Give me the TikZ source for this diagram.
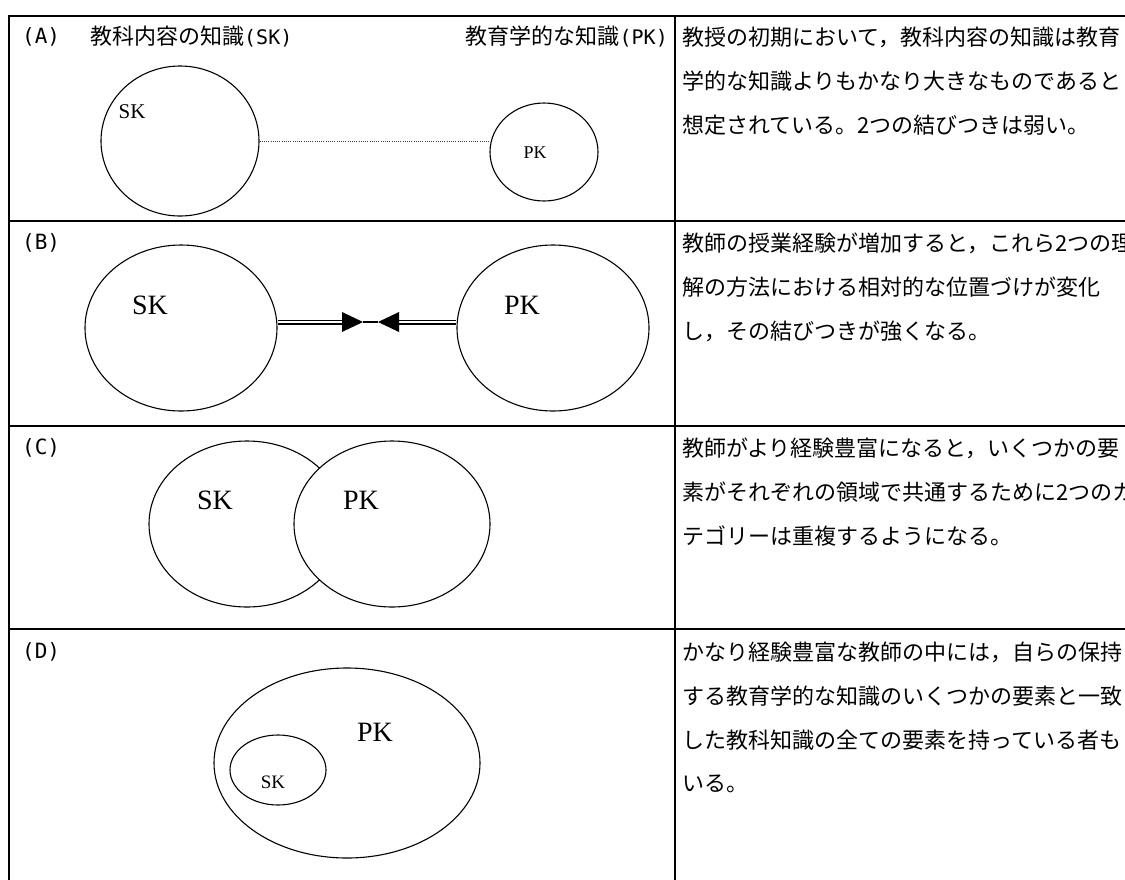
\documentclass[tikz,border=0pt]{standalone}
\usepackage{fontspec}
\setmainfont{Liberation Serif}
\newfontfamily\jp{Noto Sans CJK JP}
\newfontfamily\mono{DejaVu Sans Mono}
\usetikzlibrary{shapes.geometric}
\begin{document}
\begin{tikzpicture}[x=1pt,y=-1pt,
  frame/.style={line width=1.8pt},
  circ/.style={ellipse,draw,line width=1.1pt,inner sep=0pt,fill=white},
  lbl/.style={inner sep=0pt,font=\fontsize{#1}{#1}\selectfont},
  jtext/.style={anchor=west,inner sep=0pt,font=\jp\fontsize{22}{22}\selectfont},
  tag/.style={anchor=west,inner sep=0pt,font=\mono\fontsize{21}{21}\selectfont},
  dbl/.style={double,double distance=2pt,line width=1.5pt},
  thinline/.style={line width=1.5pt},
  dots/.style={line width=0.8pt,dash pattern=on 0.8pt off 1.4pt,black!75}
]
\useasboundingbox (0,0) rectangle (1125,879);
\clip (0,0) rectangle (1125,879);
\fill[white] (0,0) rectangle (1125,879);

% table
\draw[frame] (9,900) -- (9,16) -- (1140,16);
\draw[frame] (9,221) -- (1140,221);
\draw[frame] (9,426) -- (1140,426);
\draw[frame] (9,629) -- (1140,629);
\draw[frame] (675,16) -- (675,900);

% (A)
\node[tag] (tagA) at (22,37) {(A)};
\node[jtext] (hSK) at (90,37) {教科内容の知識{\mono\fontsize{20}{20}\selectfont(SK)}};
\node[jtext,anchor=east] (hPK) at (668,37) {教育学的な知識{\mono\fontsize{20}{20}\selectfont(PK)}};
\node[circ,minimum width=158,minimum height=150] (skA) at (180,141) {};
\node[circ,minimum width=108,minimum height=98] (pkA) at (544,152) {};
\node[lbl=21] (lskA) at (132,112) {SK};
\node[lbl=18] (lpkA) at (535,153) {PK};
\draw[dots] (skA.east) -- (pkA.west |- skA.east);

% (B)
\node[tag] (tagB) at (22,243) {(B)};
\node[circ,minimum width=192,minimum height=166] (skB) at (181,328) {};
\node[circ,minimum width=192,minimum height=166] (pkB) at (553,328) {};
\node[lbl=28] (lskB) at (150,305) {SK};
\node[lbl=28] (lpkB) at (522,305) {PK};
\coordinate (bL) at (342,322);
\coordinate (tL) at (363,322);
\coordinate (tR) at (378,322);
\coordinate (bR) at (399,322);
\draw[dbl] (skB.east |- bL) -- (bL);
\draw[dbl] (bR) -- (pkB.west |- bR);
\fill (342,312) -- (tL) -- (342,332) -- cycle;
\fill (399,312) -- (tR) -- (399,332) -- cycle;
\draw[thinline] (tL) -- (tR);

% (C)
\node[tag] (tagC) at (22,448) {(C)};
\node[circ,minimum width=196,minimum height=166] (skC) at (247,524) {};
\node[circ,minimum width=196,minimum height=166] (pkC) at (392,524) {};
\node[lbl=28] (lskC) at (215,500) {SK};
\node[lbl=28] (lpkC) at (361,500) {PK};

% (D)
\node[tag] (tagD) at (22,652) {(D)};
\node[circ,minimum width=266,minimum height=190] (pkD) at (347,763) {};
\node[circ,minimum width=96,minimum height=70] (skD) at (278,770) {};
\node[lbl=28] (lpkD) at (375,732) {PK};
\node[lbl=19] (lskD) at (273,782) {SK};

% right column text
\node[jtext] (a1) at (682,37) {教授の初期において，教科内容の知識は教育};
\node[jtext] (a2) at (682,81) {学的な知識よりもかなり大きなものであると};
\node[jtext] (a3) at (682,125) {想定されている。2つの結びつきは弱い。};
\node[jtext] (b1) at (682,243) {教師の授業経験が増加すると，これら2つの理};
\node[jtext] (b2) at (682,287) {解の方法における相対的な位置づけが変化};
\node[jtext] (b3) at (682,331) {し，その結びつきが強くなる。};
\node[jtext] (c1) at (682,448) {教師がより経験豊富になると，いくつかの要};
\node[jtext] (c2) at (682,492) {素がそれぞれの領域で共通するために2つのカ};
\node[jtext] (c3) at (682,536) {テゴリーは重複するようになる。};
\node[jtext] (d1) at (682,652) {かなり経験豊富な教師の中には，自らの保持};
\node[jtext] (d2) at (682,696) {する教育学的な知識のいくつかの要素と一致};
\node[jtext] (d3) at (682,740) {した教科知識の全ての要素を持っている者も};
\node[jtext] (d4) at (682,784) {いる。};
\end{tikzpicture}
\end{document}
